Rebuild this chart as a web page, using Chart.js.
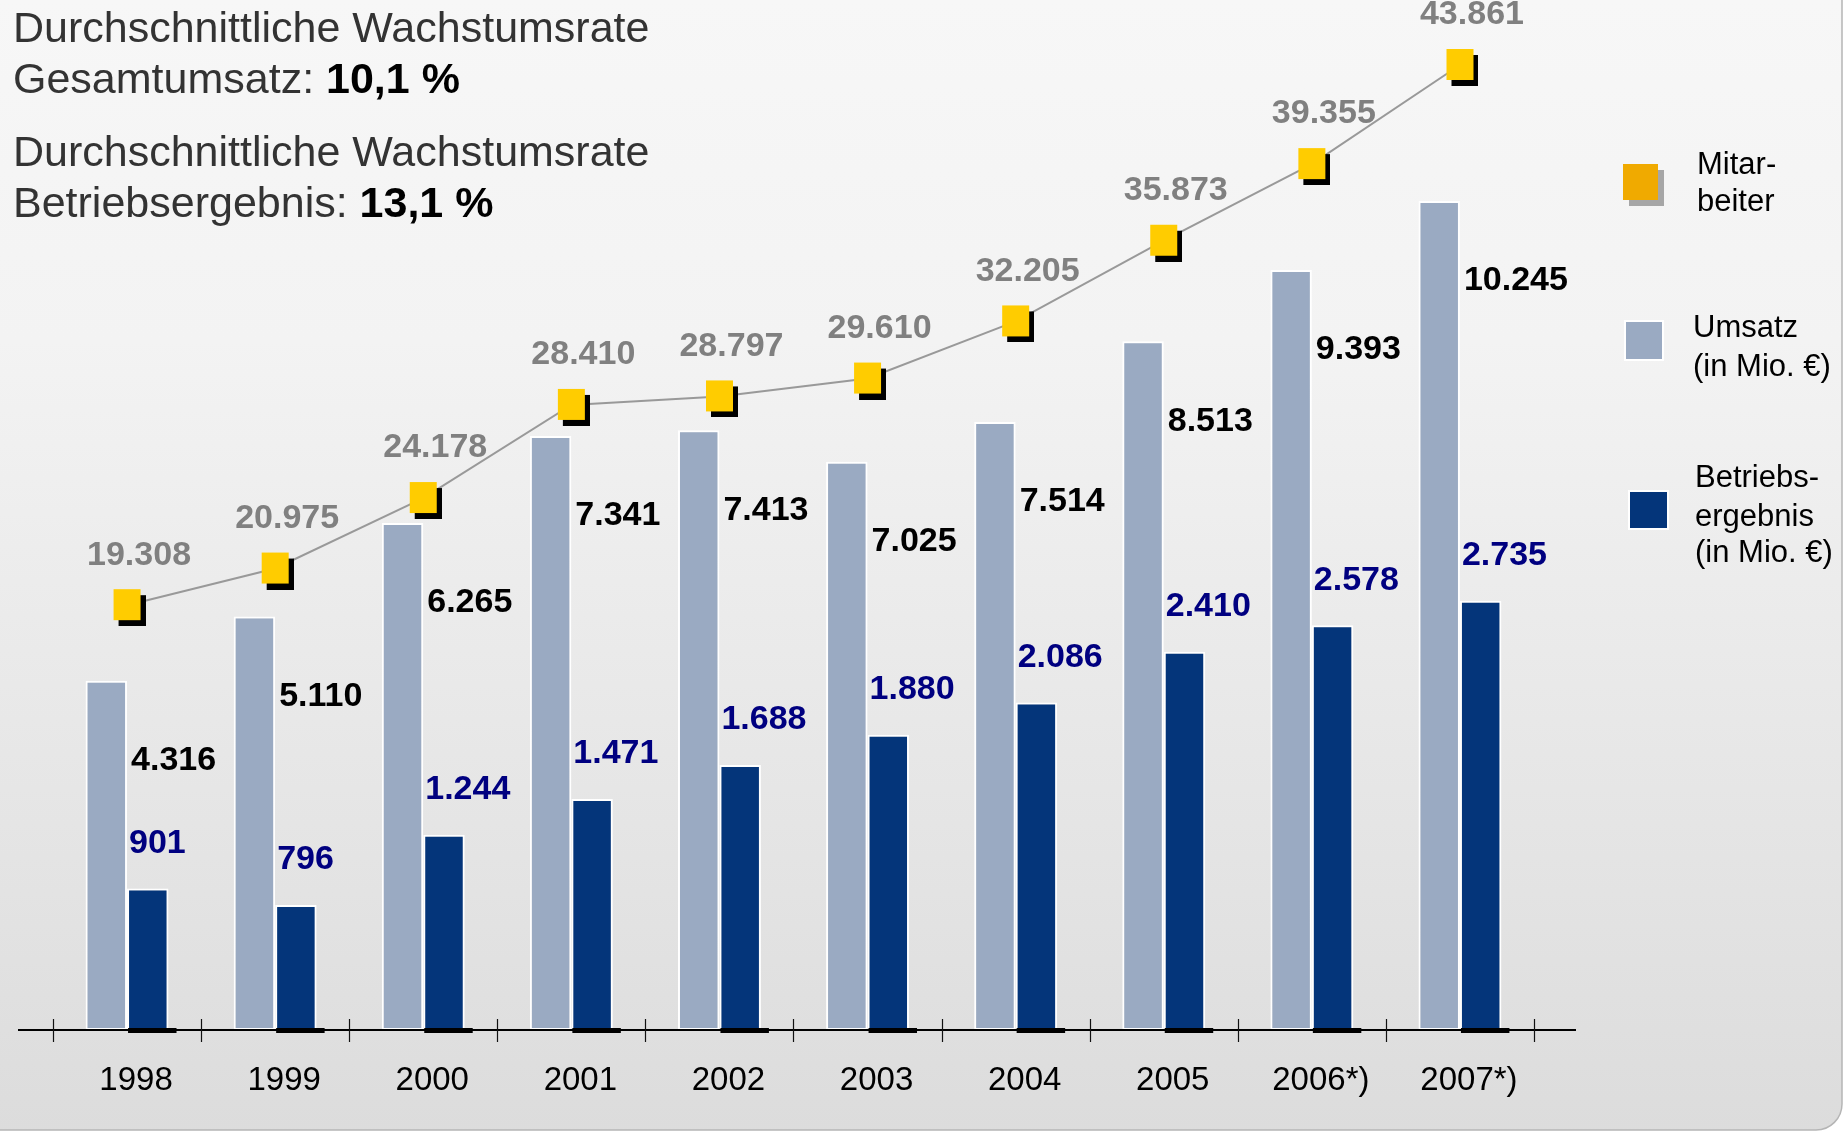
<!DOCTYPE html>
<html><head><meta charset="utf-8">
<script src="https://cdn.jsdelivr.net/npm/chart.js@4/dist/chart.umd.min.js"></script>
<style>html,body{margin:0;padding:0;background:#fff;}canvas{display:block;}</style>
</head><body>
<canvas id="c" width="1848" height="1133"></canvas>
<script>
// ---- data ----
const years = ['1998','1999','2000','2001','2002','2003','2004','2005','2006*)','2007*)'];
const umsatz = [4316,5110,6265,7341,7413,7025,7514,8513,9393,10245];
const betriebsergebnis = [901,796,1244,1471,1688,1880,2086,2410,2578,2735];
const mitarbeiter = [19308,20975,24178,28410,28797,29610,32205,35873,39355,43861];
const seriesNames = ['Umsatz (in Mio. €)','Betriebsergebnis (in Mio. €)','Mitarbeiter'];
const headline1 = ['Durchschnittliche Wachstumsrate', 'Gesamtumsatz: ', '10,1 %'];
const headline2 = ['Durchschnittliche Wachstumsrate', 'Betriebsergebnis: ', '13,1 %'];
const legendLines = [['Mitar-','beiter'],['Umsatz','(in Mio. €)'],['Betriebs-','ergebnis','(in Mio. €)']];

const FONT = '"Liberation Sans", Arial, Helvetica, sans-serif';
const C_LIGHT = '#9AAAC2', C_DARK = '#04357A', C_YELLOW = '#FFCC00';
const fmt = n => String(n).replace(/\B(?=(\d{3})+(?!\d))/g, '.');

function makeMarker(){
  const c = document.createElement('canvas'); c.width = 37; c.height = 42;
  const g = c.getContext('2d');
  g.fillStyle = '#000'; g.fillRect(10,11,27,31);
  g.fillStyle = C_YELLOW; g.fillRect(5,5,27,31);
  return c;
}

const deco = {
  id: 'deco',
  beforeDraw(chart){
    const ctx = chart.ctx, W = chart.width, H = chart.height;
    ctx.save();
    ctx.fillStyle = '#fff'; ctx.fillRect(0,0,W,H);
    const g = ctx.createLinearGradient(0,0,0,H);
    g.addColorStop(0,'#f7f7f7'); g.addColorStop(0.3,'#f3f3f3'); g.addColorStop(1,'#dcdcdc');
    ctx.beginPath(); ctx.roundRect(-30,-30,1842+30,1130+30,26);
    ctx.fillStyle = g; ctx.fill();
    ctx.strokeStyle = '#b5b5b5'; ctx.lineWidth = 1.5; ctx.stroke();
    // headline texts
    ctx.textBaseline = 'middle'; ctx.textAlign = 'left';
    const drawHead = (parts, y1, y2) => {
      ctx.font = '43px ' + FONT; ctx.fillStyle = '#333';
      ctx.fillText(parts[0], 13, y1);
      ctx.fillText(parts[1], 13, y2);
      const w = ctx.measureText(parts[1]).width;
      ctx.font = 'bold 43px ' + FONT; ctx.fillStyle = '#000';
      ctx.fillText(parts[2], 13 + w, y2);
    };
    drawHead(headline1, 30, 81);
    drawHead(headline2, 154, 205);
    // legend
    ctx.font = '31px ' + FONT;
    ctx.fillStyle = '#a6a6a6'; ctx.fillRect(1629,170,35,36);
    ctx.fillStyle = '#F0AA00'; ctx.fillRect(1623,164,35,36);
    ctx.fillStyle = '#fff'; ctx.fillRect(1624,320,40,41);
    ctx.fillStyle = C_LIGHT; ctx.fillRect(1626,322,36,37);
    ctx.fillStyle = '#fff'; ctx.fillRect(1628,490,41,40);
    ctx.fillStyle = C_DARK; ctx.fillRect(1630,492,37,36);
    ctx.fillStyle = '#000';
    const lx = [1697,1693,1695], ly = [[165,202],[328,367],[478,517,553]];
    legendLines.forEach((lines,i)=>lines.forEach((t,j)=>ctx.fillText(t, lx[i], ly[i][j])));
    ctx.restore();
  },
  afterDatasetsDraw(chart){
    const ctx = chart.ctx, xs = chart.scales.x, area = chart.chartArea;
    const base = area.bottom;
    ctx.save();
    // shadow strips under dark bars
    const m1 = chart.getDatasetMeta(1);
    ctx.fillStyle = '#000';
    m1.data.forEach(el => { ctx.fillRect(el.x - el.width/2 + 1, base - 2, el.width + 7, 5); });
    // axis line
    ctx.strokeStyle = '#000'; ctx.lineWidth = 2;
    ctx.beginPath(); ctx.moveTo(area.left - 35, base); ctx.lineTo(area.right + 42, base); ctx.stroke();
    // tick marks at category boundaries
    const step = xs.getPixelForValue(1) - xs.getPixelForValue(0);
    ctx.lineWidth = 1.2; ctx.strokeStyle = '#111';
    for (let i = 0; i <= years.length; i++) {
      const x = Math.round(xs.getPixelForValue(0) + (i - 0.5) * step) + 0.5;
      ctx.beginPath(); ctx.moveTo(x, base - 11); ctx.lineTo(x, base + 12); ctx.stroke();
    }
    // value labels
    ctx.textBaseline = 'middle';
    ctx.font = 'bold 34px ' + FONT;
    const m0 = chart.getDatasetMeta(0), m2 = chart.getDatasetMeta(2);
    ctx.textAlign = 'left';
    ctx.fillStyle = '#000';
    m0.data.forEach((el,i) => ctx.fillText(fmt(umsatz[i]), el.x + el.width/2 + 4, el.y + 80));
    ctx.fillStyle = '#000080';
    m1.data.forEach((el,i) => ctx.fillText(fmt(betriebsergebnis[i]), el.x - el.width/2 + 2, el.y - 45));
    ctx.textAlign = 'center';
    ctx.fillStyle = '#808080';
    m2.data.forEach((el,i) => ctx.fillText(fmt(mitarbeiter[i]), el.x + 12, el.y - 50));
    ctx.restore();
  }
};

new Chart(document.getElementById('c'), {
  data: {
    labels: years,
    datasets: [
      { type:'bar', label: seriesNames[0], data: umsatz, yAxisID:'y', backgroundColor: C_LIGHT,
        borderColor:'#fff', borderWidth:2, borderSkipped:false, order:1,
        categoryPercentage:0.56, barPercentage:1.0 },
      { type:'bar', label: seriesNames[1], data: betriebsergebnis, yAxisID:'y2', backgroundColor: C_DARK,
        borderColor:'#fff', borderWidth:2, borderSkipped:false, order:1,
        categoryPercentage:0.56, barPercentage:1.0 },
      { type:'line', label: seriesNames[2], data: mitarbeiter, yAxisID:'y3', borderColor:'#999999',
        borderWidth:2, pointStyle: makeMarker(), pointRadius: 18, order:0, tension:0, clip:false }
    ]
  },
  options: {
    responsive:false, animation:false, devicePixelRatio:1,
    layout: { padding: { left:53, right:314, top:30, bottom:0 } },
    plugins: { legend:{display:false}, tooltip:{enabled:false}, title:{display:false} },
    scales: {
      x: { offset:true, grid:{display:false, drawTicks:false}, border:{display:false},
           ticks:{ color:'#000', font:{family:FONT, size:33}, padding:31, labelOffset:9, maxRotation:0, autoSkip:false },
           afterFit: s => { s.height = 103; } },
      y:  { display:false, min:0, max:12360 },
      y2: { display:false, min:0, max:6370 },
      y3: { display:false, min:0, max:45450 }
    }
  },
  plugins: [deco]
});
</script>
</body></html>
